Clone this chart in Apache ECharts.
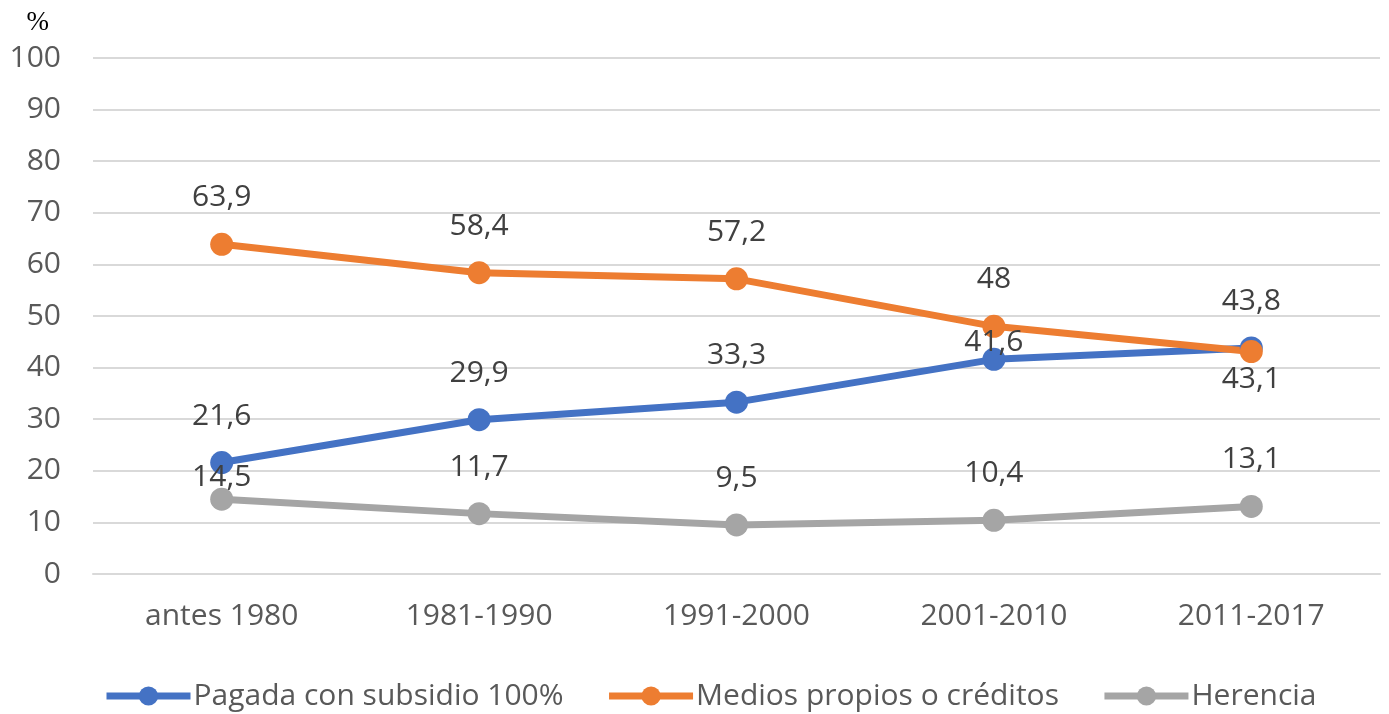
<!DOCTYPE html>
<html><head><meta charset="utf-8">
<script src="https://cdn.jsdelivr.net/npm/echarts@6/dist/echarts.min.js"></script>
<style>html,body{margin:0;padding:0;background:#fff}#c{width:1389px;height:714px}</style>
</head><body><div id="c"></div>
<script>
const categories = ['antes 1980','1981-1990','1991-2000','2001-2010','2011-2017'];
const subsidio = [21.6, 29.9, 33.3, 41.6, 43.8];
const medios = [63.9, 58.4, 57.2, 48, 43.1];
const herencia = [14.5, 11.7, 9.5, 10.4, 13.1];
const seriesNames = ['Pagada con subsidio 100%','Medios propios o créditos','Herencia'];
const yTicks = {min:0, max:100, interval:10};

const FONT = 'Open Sans';
const TXT = '#595959';
const fmt = v => String(v).replace('.', ',');

function mk(values, overrides){
  return values.map((v,i)=> overrides[i] ? {value:v, label:overrides[i]} : v);
}
function ser(name, values, color, overrides){
  return {
    name, type:'line', data: mk(values, overrides),
    symbol:'circle', symbolSize:23,
    lineStyle:{color, width:7}, itemStyle:{color},
    label:{show:true, position:'top', distance:20, color:'#404040', fontFamily:FONT, fontSize:30,
      formatter:p=>fmt(p.value)},
    z: 2
  };
}
const chart = echarts.init(document.getElementById('c'));
chart.setOption({
  animation:false,
  grid:{left:93, right:9, top:58, bottom:140},
  legend:{
    left:98, top:676, itemWidth:84, itemHeight:24, itemGap:42,
    lineStyle:{width:7},
    textStyle:{color:TXT, fontFamily:FONT, fontSize:30, padding:[0,0,0,-2]},
    data: seriesNames
  },
  xAxis:{type:'category', data:categories, boundaryGap:true,
    axisLine:{lineStyle:{color:'#d9d9d9', width:2}}, axisTick:{show:false},
    axisLabel:{color:TXT, fontFamily:FONT, fontSize:30, margin:27}},
  yAxis:{type:'value', min:yTicks.min, max:yTicks.max, interval:yTicks.interval,
    name:'%', nameLocation:'end', nameGap:22,
    nameTextStyle:{fontFamily:'Liberation Serif', fontSize:27, color:'#000', align:'right', padding:[0,44,0,0]},
    axisLine:{show:false}, axisTick:{show:false},
    splitLine:{lineStyle:{color:'#d9d9d9', width:2}},
    axisLabel:{color:TXT, fontFamily:FONT, fontSize:30, margin:32}},
  series:[
    ser(seriesNames[0], subsidio, '#4472C4', {3:{distance:-10}}),
    ser(seriesNames[1], medios, '#ED7D31', {4:{position:'bottom', distance:1}}),
    ser(seriesNames[2], herencia, '#A5A5A5', {0:{distance:-5}})
  ]
});
</script></body></html>
